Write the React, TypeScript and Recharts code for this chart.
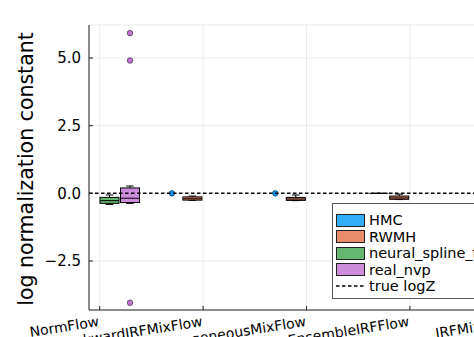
import React from 'react'
import { ComposedChart, Bar, XAxis, YAxis, CartesianGrid, ReferenceLine } from 'recharts'

const FONT = "'DejaVu Sans', sans-serif"

const categories = ['NormFlow', 'BackwardIRFMixFlow', 'HomogeneousMixFlow', 'EnsembleIRFFlow', 'IRFMixFlow']

// box stats: [lower whisker, q1, median, q3, upper whisker]
const hmcBoxes = [null, null, null, [0, 0, 0, 0, 0], null]
const hmcOutliers = [[], [0], [0], [], [0]]
const rwmhBoxes = [null, [-0.26, -0.25, -0.2, -0.13, -0.1], [-0.27, -0.26, -0.21, -0.15, -0.06], [-0.23, -0.22, -0.17, -0.1, -0.03], [-0.26, -0.24, -0.2, -0.14, -0.08]]
const rwmhOutliers = [[], [], [], [], []]
const nsfBoxes = [[-0.41, -0.37, -0.27, -0.15, -0.06], null, null, null, null]
const nsfOutliers = [[], [], [], [], []]
const rnvpBoxes = [[-0.37, -0.34, -0.18, 0.2, 0.27], null, null, null, null]
const rnvpOutliers = [[5.92, 4.91, -4.04], [], [], [], []]

const yTicks = [-2.5, 0, 2.5, 5]
const trueLogZ = 0

const series = [
  { key: 'hmc', name: 'HMC', fill: '#33aefb', base: '#009afa', boxes: hmcBoxes, outliers: hmcOutliers },
  { key: 'rwmh', name: 'RWMH', fill: '#e88c6b', base: '#e26f46', boxes: rwmhBoxes, outliers: rwmhOutliers },
  { key: 'nsf', name: 'neural_spline_flow', fill: '#65b671', base: '#3ea44e', boxes: nsfBoxes, outliers: nsfOutliers },
  { key: 'rnvp', name: 'real_nvp', fill: '#ce8ddb', base: '#c271d2', boxes: rnvpBoxes, outliers: rnvpOutliers },
]

const data = categories.map((name, i) => {
  const row: any = { name }
  series.forEach((s) => {
    row[s.key] = { box: s.boxes[i], out: s.outliers[i] }
  })
  return row
})

const rangeOf = (key: string) => (row: any) => {
  const s = row[key]
  const vals = [...(s.box || []), ...s.out]
  if (!vals.length) return null
  return [Math.min(...vals), Math.max(...vals)]
}

function makeBoxShape(key: string, fill: string, base: string) {
  return (props: any) => {
    const { x, y, width, height, payload } = props
    const s = payload && payload[key]
    if (!s) return null
    const vals = [...(s.box || []), ...s.out]
    if (!vals.length) return null
    const lo = Math.min(...vals)
    const hi = Math.max(...vals)
    const top = Math.min(y, y + height)
    const bottom = Math.max(y, y + height)
    const py = (v: number) => (hi === lo ? top : bottom - ((v - lo) / (hi - lo)) * (bottom - top))
    const cx = x + width / 2
    const cap = width * 0.2
    const parts: React.ReactNode[] = []
    if (s.box) {
      const [wl, q1, med, q3, wh] = s.box
      parts.push(
        <line key="wu" x1={cx} x2={cx} y1={py(q3)} y2={py(wh)} stroke="#000" strokeWidth={1} />,
        <line key="wuc" x1={cx - cap} x2={cx + cap} y1={py(wh)} y2={py(wh)} stroke="#000" strokeWidth={1} />,
        <line key="wl" x1={cx} x2={cx} y1={py(q1)} y2={py(wl)} stroke="#000" strokeWidth={1} />,
        <line key="wlc" x1={cx - cap} x2={cx + cap} y1={py(wl)} y2={py(wl)} stroke="#000" strokeWidth={1} />,
        <rect key="b" x={x} y={py(q3)} width={width} height={Math.max(py(q1) - py(q3), 0)} fill={fill} stroke="#000" strokeWidth={1} />,
        <line key="m" x1={x} x2={x + width} y1={py(med)} y2={py(med)} stroke="#000" strokeWidth={1} />
      )
    }
    s.out.forEach((v: number, i: number) => {
      parts.push(<circle key={'o' + i} cx={cx} cy={py(v)} r={2.8} fill={base} stroke="rgba(0,0,0,0.6)" strokeWidth={0.8} />)
    })
    return <g>{parts}</g>
  }
}

function XTick(props: any) {
  const { x, y, payload } = props
  return (
    <text x={x} y={y} transform={`rotate(-9, ${x}, ${y})`} textAnchor="end" fontSize={14} fontFamily={FONT} fill="#000">
      {payload.value}
    </text>
  )
}

function YTitle(props: any) {
  const { viewBox } = props
  const cy = viewBox.y + viewBox.height / 2 + 1.5
  const tx = 32.5
  return (
    <text x={tx} y={cy} transform={`rotate(-90, ${tx}, ${cy})`} textAnchor="middle" fontSize={20.5} fontFamily={FONT} fill="#000">
      log normalization constant
    </text>
  )
}

const fmt = (v: number) => (v < 0 ? '\u2212' + Math.abs(v).toFixed(1) : v.toFixed(1))

function LegendBox() {
  return (
    <div
      style={{
        position: 'absolute',
        left: 332,
        top: 203,
        width: 178,
        height: 96,
        border: '1px solid #555',
        background: '#fff',
        fontFamily: FONT,
        fontSize: 14.5,
        color: '#000',
        boxSizing: 'border-box',
        paddingTop: 8,
      }}
    >
      {series.map((s) => (
        <div key={s.key} style={{ display: 'flex', alignItems: 'center', height: 16.5, lineHeight: '16.5px' }}>
          <div style={{ marginLeft: 3, width: 29, height: 13, background: s.fill, border: '1.5px solid #222', boxSizing: 'border-box' }} />
          <span style={{ marginLeft: 4, whiteSpace: 'nowrap' }}>{s.name}</span>
        </div>
      ))}
      <div style={{ display: 'flex', alignItems: 'center', height: 16.5, lineHeight: '16.5px' }}>
        <svg width={32} height={4} style={{ marginLeft: 3 }}>
          <line x1={0} x2={30} y1={2} y2={2} stroke="#000" strokeWidth={1.5} strokeDasharray="3.5 2.5" />
        </svg>
        <span style={{ marginLeft: 1, whiteSpace: 'nowrap' }}>true logZ</span>
      </div>
    </div>
  )
}

export default function App() {
  return (
    <div style={{ position: 'fixed', left: 0, top: 0, width: 474, height: 337, overflow: 'hidden', background: '#fff' }}>
      <ComposedChart
        width={540}
        height={337}
        data={data}
        margin={{ top: 25, right: 16, bottom: 0, left: 0 }}
        barGap={1.5}
      >
        <CartesianGrid stroke="#e6e6e6" strokeWidth={0.8} />
        <XAxis
          dataKey="name"
          type="category"
          height={27}
          interval={0}
          padding={{ left: -41, right: -41 }}
          tickSize={-4}
          tickMargin={20}
          tick={<XTick />}
          axisLine={{ stroke: '#222' }}
          tickLine={{ stroke: '#222' }}
        />
        <YAxis
          type="number"
          domain={[-4.31, 6.22]}
          ticks={yTicks}
          allowDataOverflow
          width={89}
          tickSize={-4}
          tickMargin={12}
          tickFormatter={fmt}
          tick={{ fontSize: 15, fontFamily: FONT, fill: '#000' }}
          axisLine={{ stroke: '#222' }}
          tickLine={{ stroke: '#222' }}
          label={<YTitle />}
        />
        {series.map((s) => (
          <Bar
            key={s.key}
            dataKey={rangeOf(s.key)}
            name={s.name}
            barSize={19}
            fill={s.fill}
            isAnimationActive={false}
            shape={makeBoxShape(s.key, s.fill, s.base)}
          />
        ))}
        <ReferenceLine y={trueLogZ} stroke="#000" strokeWidth={1.5} strokeDasharray="3.5 2.5" />
      </ComposedChart>
      <LegendBox />
    </div>
  )
}
